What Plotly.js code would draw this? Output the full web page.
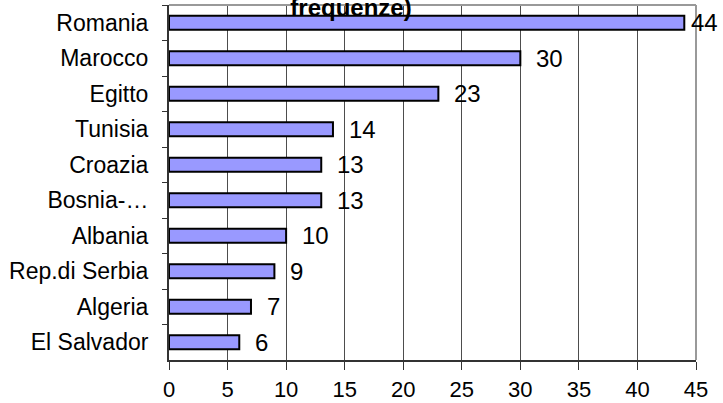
<!DOCTYPE html>
<html>
<head>
<meta charset="utf-8">
<script src="https://cdn.plot.ly/plotly-3.0.1.min.js"></script>
<style>html,body{margin:0;padding:0;background:#fff;}#chart{width:723px;height:403px;}</style>
</head>
<body>
<div id="chart"></div>
<script>
var countries = ["Romania", "Marocco", "Egitto", "Tunisia", "Croazia", "Bosnia-…", "Albania", "Rep.di Serbia", "Algeria", "El Salvador"];
var counts = [44, 30, 23, 14, 13, 13, 10, 9, 7, 6];
var xTicks = [0, 5, 10, 15, 20, 25, 30, 35, 40, 45];
var titleText = "frequenze)";

var font = "Liberation Sans, Arial, sans-serif";
var W = 723, H = 403;
var mL = 169, mR = 27, xMax = 45;
var pxPerUnit = (W - mL - mR) / xMax;

var trace = {
  type: "bar",
  orientation: "h",
  x: counts,
  y: countries,
  width: 0.4,
  marker: {color: "#9999FF", line: {color: "#000000", width: 2}},
  hoverinfo: "none",
  cliponaxis: false
};

var labelSize = 24;
var annotations = counts.map(function (v, i) {
  var txt = String(v);
  var wEst = txt.length * labelSize * 0.556;
  var endPx = mL + v * pxPerUnit;
  var shift = Math.min(14, W - 7 - wEst - endPx);
  return {
    x: v, y: countries[i], xref: "x", yref: "y",
    text: txt, showarrow: false,
    xanchor: "left", yanchor: "middle", xshift: shift, yshift: 0,
    font: {family: font, size: labelSize, color: "#000"}
  };
});

var layout = {
  width: W, height: H,
  margin: {l: mL, r: mR, t: 5, b: 43},
  paper_bgcolor: "#fff", plot_bgcolor: "#fff",
  showlegend: false,
  title: {
    text: "<b>" + titleText + "</b>",
    font: {family: font, size: 24, color: "#000"},
    xref: "container", yref: "container",
    x: 351 / W, xanchor: "center",
    y: (H - 8) / H, yanchor: "middle"
  },
  xaxis: {
    range: [0, xMax],
    tickvals: xTicks,
    ticktext: xTicks.map(String),
    showgrid: true, gridcolor: "#4d4d4d", gridwidth: 1,
    zeroline: false,
    showline: true, linecolor: "#333333", linewidth: 1.5,
    ticks: "outside", ticklen: 8, tickcolor: "#333333", tickwidth: 1,
    ticklabelstandoff: 1,
    tickfont: {family: font, size: 22, color: "#000"},
    fixedrange: true
  },
  yaxis: {
    type: "category",
    categoryorder: "array", categoryarray: countries,
    autorange: "reversed",
    showgrid: false, zeroline: false,
    showline: true, linecolor: "#333333", linewidth: 2,
    ticks: "outside", ticklen: 5, tickcolor: "#333333", tickwidth: 1,
    tickson: "boundaries",
    ticklabelstandoff: 14,
    tickfont: {family: font, size: 23, color: "#000"},
    fixedrange: true
  },
  shapes: [
    {type: "line", xref: "paper", yref: "paper", x0: 0, x1: 1, y0: 1, y1: 1, line: {color: "#999999", width: 2}, layer: "above"},
    {type: "line", xref: "paper", yref: "paper", x0: 1, x1: 1, y0: 0, y1: 1, line: {color: "#999999", width: 2}, layer: "above"}
  ],
  annotations: annotations
};

Plotly.newPlot("chart", [trace], layout, {displayModeBar: false, staticPlot: true});
</script>
</body>
</html>
